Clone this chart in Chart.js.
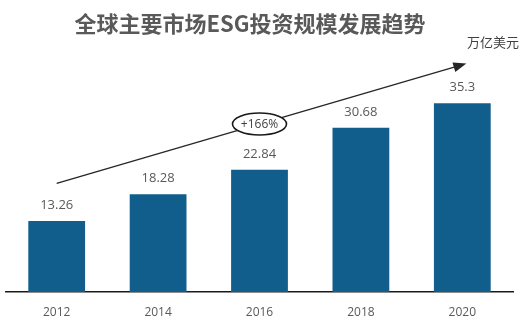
<!DOCTYPE html>
<html>
<head>
<meta charset="utf-8">
<script src="https://cdn.jsdelivr.net/npm/chart.js@4"></script>
<style>
  html, body { margin: 0; padding: 0; background: #fff; }
  #wrap { width: 528px; height: 324px; position: relative; }
</style>
</head>
<body>
<div id="wrap"><canvas id="chart-esg"></canvas></div>
<script>
var YEARS = ['2012', '2014', '2016', '2018', '2020'];
var AUM = [13.26, 18.28, 22.84, 30.68, 35.3];
var TITLE = '全球主要市场ESG投资规模发展趋势';
var UNIT = '万亿美元';
// trend arrow runs from above the first bar to past the last one (value units)
var ARROW_FROM = [0, 20.3];
var ARROW_TO = [4.04, 42.7];

var BAR_COLOR = '#115e8d';
var TEXT_COLOR = '#595959';
var growth = Math.round((AUM[AUM.length - 1] - AUM[0]) / AUM[0] * 100);

var decor = {
    id: 'decor',
    afterDatasetsDraw: function (chart) {
        var ctx = chart.ctx, x = chart.scales.x, y = chart.scales.y;
        var meta = chart.getDatasetMeta(0);
        ctx.save();

        // value labels over the bars
        ctx.font = '13px "Open Sans", sans-serif';
        ctx.fillStyle = TEXT_COLOR;
        ctx.textAlign = 'center';
        ctx.textBaseline = 'middle';
        meta.data.forEach(function (bar, i) {
            ctx.fillText(String(AUM[i]), bar.x, bar.y - 16);
        });

        // trend arrow
        var x0 = x.getPixelForValue(ARROW_FROM[0]), y0 = y.getPixelForValue(ARROW_FROM[1]);
        var x1 = x.getPixelForValue(ARROW_TO[0]), y1 = y.getPixelForValue(ARROW_TO[1]);
        var ang = Math.atan2(y1 - y0, x1 - x0);
        ctx.strokeStyle = '#262626';
        ctx.fillStyle = '#262626';
        ctx.lineWidth = 1.3;
        ctx.beginPath();
        ctx.moveTo(x0, y0);
        ctx.lineTo(x1 - 10 * Math.cos(ang), y1 - 10 * Math.sin(ang));
        ctx.stroke();
        ctx.beginPath();
        ctx.moveTo(x1, y1);
        ctx.lineTo(x1 - 13 * Math.cos(ang) + 5 * Math.sin(ang), y1 - 13 * Math.sin(ang) - 5 * Math.cos(ang));
        ctx.lineTo(x1 - 13 * Math.cos(ang) - 5 * Math.sin(ang), y1 - 13 * Math.sin(ang) + 5 * Math.cos(ang));
        ctx.closePath();
        ctx.fill();

        // growth badge in the middle of the arrow
        var cx = x.getPixelForValue(2);
        var cy = y0 + (y1 - y0) * (cx - x0) / (x1 - x0);
        ctx.beginPath();
        ctx.ellipse(cx, cy, 27, 11, 0, 0, Math.PI * 2);
        ctx.fillStyle = '#fff';
        ctx.fill();
        ctx.lineWidth = 1.6;
        ctx.strokeStyle = '#1a1a1a';
        ctx.stroke();
        ctx.fillStyle = '#404040';
        ctx.font = '12px "Open Sans", sans-serif';
        ctx.fillText('+' + growth + '%', cx, cy + 1);

        // title and unit
        ctx.fillStyle = TEXT_COLOR;
        ctx.font = 'bold 22px "Noto Sans CJK SC", sans-serif';
        ctx.fillText(TITLE, 250, 24);
        ctx.fillStyle = '#404040';
        ctx.font = '13px "Noto Sans CJK SC", sans-serif';
        ctx.fillText(UNIT, 493, 42);
        ctx.restore();
    }
};

new Chart(document.getElementById('chart-esg'), {
    type: 'bar',
    data: {
        labels: YEARS,
        datasets: [{ data: AUM, backgroundColor: BAR_COLOR, borderWidth: 0,
            barPercentage: 0.56, categoryPercentage: 1 }]
    },
    options: {
        responsive: true, maintainAspectRatio: false, animation: false,
        layout: { padding: { top: 78, left: 6, right: 15, bottom: 0 } },
        plugins: { legend: { display: false }, tooltip: { enabled: false } },
        scales: {
            x: {
                grid: { display: false, drawTicks: false },
                border: { display: true, color: '#1a1a1a', width: 1.5 },
                ticks: { color: TEXT_COLOR, padding: 13, font: { family: '"Open Sans", sans-serif', size: 12 } },
                afterFit: function (scale) { scale.height = 32; }
            },
            y: { display: false, min: 0, max: 40 }
        }
    },
    plugins: [decor]
});
</script>
</body>
</html>
